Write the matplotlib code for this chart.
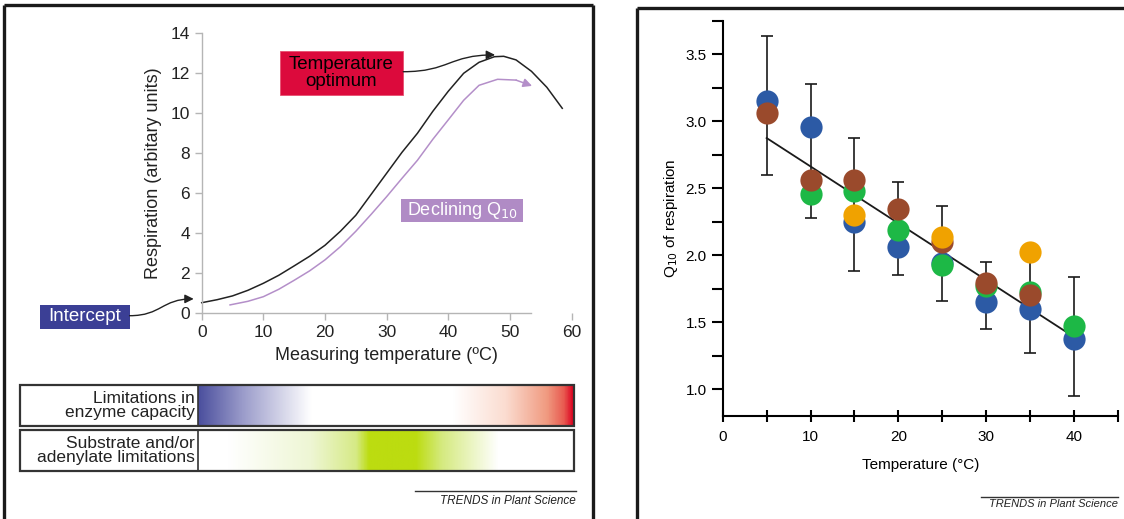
import matplotlib.pyplot as plt
import numpy as np
from matplotlib.colors import LinearSegmentedColormap
from matplotlib.lines import Line2D
from matplotlib.patches import Rectangle, FancyArrowPatch
from matplotlib.path import Path
from matplotlib.ticker import MultipleLocator

plt.rcParams['font.family'] = ['Liberation Sans', 'DejaVu Sans']

# left panel: respiration vs measuring temperature
resp_temp = [0, 2.5, 5, 7.5, 10, 12.5, 15, 17.5, 20, 22.5, 25, 27.5, 30, 32.5, 35, 37.5,
             40, 42.5, 45, 47.5, 49, 51, 53.5, 56, 58.5]
resp_total = [0.53, 0.68, 0.87, 1.15, 1.5, 1.9, 2.37, 2.85, 3.4, 4.1, 4.9, 5.95, 7.0, 8.05,
              9.0, 10.1, 11.1, 12.0, 12.55, 12.83, 12.85, 12.67, 12.1, 11.3, 10.25]
q10_temp = [4.6, 7.5, 10, 12.5, 15, 17.5, 20, 22.5, 25, 27.5, 30, 32.5, 35, 37.5, 40,
            42.5, 45, 48, 51, 53.6]
q10_resp = [0.42, 0.6, 0.83, 1.2, 1.65, 2.12, 2.67, 3.33, 4.1, 4.95, 5.83, 6.75, 7.65, 8.7,
            9.67, 10.65, 11.4, 11.7, 11.66, 11.37]

# right panel: Q10 of respiration per measuring temperature
blue_t = [5, 10, 15, 20, 25, 30, 35, 40]
blue_q = [3.15, 2.955, 2.25, 2.065, 1.945, 1.65, 1.60, 1.375]
green_t = [10, 15, 20, 25, 30, 35, 40]
green_q = [2.455, 2.478, 2.19, 1.93, 1.77, 1.725, 1.47]
brown_t = [5, 10, 15, 20, 25, 30, 35]
brown_q = [3.06, 2.565, 2.565, 2.346, 2.10, 1.795, 1.70]
orange_t = [15, 25, 35]
orange_q = [2.298, 2.137, 2.025]

err_t = [5, 10, 15, 20, 25, 30, 35, 40]
err_lo = [2.60, 2.28, 1.88, 1.85, 1.66, 1.45, 1.27, 0.95]
err_hi = [3.64, 3.276, 2.876, 2.545, 2.366, 1.95, 1.98, 1.84]

fit_t = [5, 40]
fit_q = [2.876, 1.39]

W, H = 1124, 519
fig = plt.figure(figsize=(W / 100, H / 100), dpi=100)


def rect(x0, y0, x1, y1):
    return [x0 / W, 1 - y1 / H, (x1 - x0) / W, (y1 - y0) / H]


def fline(xs, ys, **kw):
    fig.add_artist(Line2D([x / W for x in xs], [1 - y / H for y in ys], **kw))


def s_arrow(ax, start, end, color):
    (x0, y0), (x1, y1) = start, end
    xm = (x0 + x1) / 2
    path = Path([(x0, y0), (xm, y0), (xm, y1), (x1, y1)],
                [Path.MOVETO, Path.CURVE4, Path.CURVE4, Path.CURVE4])
    ax.add_patch(FancyArrowPatch(path=path, arrowstyle='-|>', mutation_scale=13,
                                 color=color, lw=1.0, transform=ax.transData,
                                 clip_on=False))


# panel frames
frame = dict(color='#1a1a1a', lw=2.4, solid_capstyle='butt')
fline([4, 4], [5, 519], **frame)
fline([4, 593], [5, 5], **frame)
fline([593, 593], [5, 519], **frame)
fline([637, 637], [8, 519], **frame)
fline([637, 1124], [8, 8], **frame)

# ---- left: respiration curves ----
ax = fig.add_axes(rect(201.7, 33.3, 571.5, 313.3))
ax.set_xlim(0, 60)
ax.set_ylim(0, 14)
for side in ['top', 'right']:
    ax.spines[side].set_visible(False)
for side in ['left', 'bottom']:
    ax.spines[side].set_color('#b5b5b5')
    ax.spines[side].set_linewidth(1.0)
ax.spines['bottom'].set_bounds(0, 53.5)
ax.set_xticks(range(0, 61, 10))
ax.set_yticks(range(0, 15, 2))
ax.tick_params(colors='#b5b5b5', labelcolor='#222222', labelsize=12.5, length=5, width=1)
ax.set_xlabel('Measuring temperature (ºC)', fontsize=13, color='#222222', labelpad=5)
ax.set_ylabel('Respiration (arbitary units)', fontsize=13, color='#222222', labelpad=6)

ax.plot(resp_temp, resp_total, color='#222222', lw=1.1, clip_on=False)
purple = '#b48fc9'
ax.plot(q10_temp[:-1], q10_resp[:-1], color=purple, lw=1.1, clip_on=False)
ax.annotate('', xy=(q10_temp[-1], q10_resp[-1]), xytext=(q10_temp[-2], q10_resp[-2]),
            arrowprops=dict(arrowstyle='-|>', color=purple, lw=1.1, mutation_scale=13,
                            shrinkA=0, shrinkB=0), annotation_clip=False)

# label boxes
ax.add_patch(Rectangle((-26.3, -0.77), 14.6, 1.21, facecolor='#3b3f95', edgecolor='none',
                       clip_on=False))
ax.text(-19.0, -0.16, 'Intercept', color='white', fontsize=13.5, ha='center', va='center')
s_arrow(ax, (-11.7, -0.12), (-1.3, 0.72), '#222222')

ax.add_patch(Rectangle((12.7, 10.94), 19.9, 2.16, facecolor='#dc0a3c', edgecolor='#e85070',
                       lw=0.6, clip_on=False))
ax.text(22.65, 12.02, 'Temperature\noptimum', color='black', fontsize=13.5,
        ha='center', va='center', linespacing=1.0)
s_arrow(ax, (32.7, 12.08), (47.6, 12.92), '#222222')

ax.add_patch(Rectangle((32.4, 4.59), 19.7, 1.14, facecolor='#b08bc5', edgecolor='none',
                       clip_on=False))
ax.text(42.25, 5.16, 'Declining Q$_{10}$', color='white', fontsize=13,
        ha='center', va='center')

# ---- left: limitation bars ----
enzyme_cmap = LinearSegmentedColormap.from_list('enzyme', [
    (0.0, '#4b4f9e'), (0.12, '#9c9dcb'), (0.3, '#ffffff'), (0.68, '#ffffff'),
    (0.82, '#fbdcd0'), (0.93, '#f09a80'), (0.975, '#e85a50'), (1.0, '#dc0020')])
substrate_cmap = LinearSegmentedColormap.from_list('substrate', [
    (0.0, '#ffffff'), (0.08, '#ffffff'), (0.3, '#eef6d4'), (0.42, '#d6ea86'),
    (0.455, '#bcdc10'), (0.58, '#bcdc10'), (0.65, '#d5ea80'), (0.8, '#ffffff'),
    (1.0, '#ffffff')])

bars = [(385, 426, enzyme_cmap, 'Limitations in\nenzyme capacity'),
        (430, 471, substrate_cmap, 'Substrate and/or\nadenylate limitations')]
ramp = np.linspace(0, 1, 512).reshape(1, -1)
for top, bottom, cmap, label in bars:
    gax = fig.add_axes(rect(198, top, 574, bottom))
    gax.imshow(ramp, cmap=cmap, aspect='auto', extent=(0, 1, 0, 1))
    gax.set_axis_off()
    fig.add_artist(Rectangle((20 / W, 1 - bottom / H), 554 / W, (bottom - top) / H,
                             transform=fig.transFigure, facecolor='none',
                             edgecolor='#333333', lw=1.6))
    fline([198, 198], [top, bottom], color='#333333', lw=1.2)
    fig.text(195 / W, 1 - (top + bottom) / 2 / H, label, ha='right', va='center',
             fontsize=12.5, color='#222222', linespacing=0.95)

fline([415, 576], [491, 491], color='#333333', lw=1.0)
fig.text(576 / W, 1 - 501 / H, 'TRENDS in Plant Science', ha='right', va='center',
         fontsize=8.5, style='italic', color='#222222')

# ---- right: Q10 vs temperature ----
bx = fig.add_axes(rect(722.7, 21, 1118, 416))
bx.set_xlim(0, 45)
bx.set_ylim(0.8, 3.75)
for side in ['top', 'right']:
    bx.spines[side].set_visible(False)
for side in ['left', 'bottom']:
    bx.spines[side].set_linewidth(1.5)
bx.xaxis.set_major_locator(MultipleLocator(10))
bx.xaxis.set_minor_locator(MultipleLocator(5))
bx.yaxis.set_major_locator(MultipleLocator(0.5))
bx.yaxis.set_minor_locator(MultipleLocator(0.25))
bx.set_yticks(np.arange(1.0, 3.51, 0.5))
bx.set_yticklabels([f'{v:.1f}' for v in np.arange(1.0, 3.51, 0.5)])
bx.tick_params(axis='x', which='both', direction='inout', length=8, width=1.5,
               labelsize=11, pad=6)
bx.tick_params(axis='y', which='both', direction='out', length=8, width=1.5,
               labelsize=11)
bx.set_xlabel('Temperature (°C)', fontsize=11, labelpad=10)
bx.set_ylabel('Q$_{10}$ of respiration', fontsize=11, labelpad=4)

mid = [(lo + hi) / 2 for lo, hi in zip(err_lo, err_hi)]
half = [(hi - lo) / 2 for lo, hi in zip(err_lo, err_hi)]
bx.errorbar(err_t, mid, yerr=half, fmt='none', ecolor='#1a1a1a', elinewidth=1.2,
            capsize=4, capthick=1.2, zorder=2)
bx.plot(fit_t, fit_q, color='#1a1a1a', lw=1.3, zorder=2)

ms = 16
bx.plot(blue_t, blue_q, 'o', color='#2c5aa5', ms=ms, mec='none', zorder=3, clip_on=False)
bx.plot(green_t, green_q, 'o', color='#1db846', ms=ms, mec='none', zorder=4, clip_on=False)
bx.plot(brown_t, brown_q, 'o', color='#9a4a2c', ms=ms, mec='none', zorder=5, clip_on=False)
bx.plot(orange_t, orange_q, 'o', color='#f0a200', ms=ms, mec='none', zorder=6, clip_on=False)

fline([981, 1118], [496.5, 496.5], color='#333333', lw=1.0)
fig.text(1118 / W, 1 - 504 / H, 'TRENDS in Plant Science', ha='right', va='center',
         fontsize=8, style='italic', color='#222222')

fig.savefig('out.png', dpi=100)
